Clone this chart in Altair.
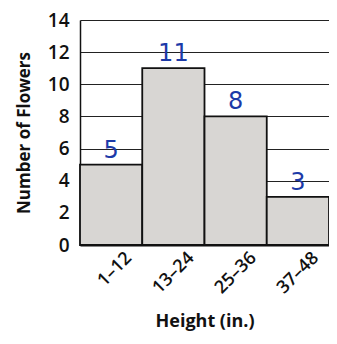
import altair as alt
import pandas as pd

categories = ["1–12", "13–24", "25–36", "37–48"]
counts = [5, 11, 8, 3]
labels = ["5", "11", "8", "3"]

df = pd.DataFrame({"height": categories, "count": counts, "label": labels})

FONT = "Open Sans"

x = alt.X(
    "height:N",
    sort=categories,
    scale=alt.Scale(paddingInner=0, paddingOuter=0),
    axis=alt.Axis(
        title="Height (in.)",
        labelAngle=-45,
        labelAlign="right",
        labelBaseline="middle",
        labelOffset=18,
        labelPadding=10,
        labelFont=FONT,
        labelFontSize=18,
        labelFontWeight=600,
        labelColor="#111",
        titleFont=FONT,
        titleFontSize=18,
        titleFontWeight="bold",
        titleColor="#111",
        titlePadding=16,
        ticks=False,
        domainColor="#111",
        domainWidth=2,
    ),
)

y = alt.Y(
    "count:Q",
    scale=alt.Scale(domain=[0, 14], nice=False),
    axis=alt.Axis(
        title="Number of Flowers",
        values=[0, 2, 4, 6, 8, 10, 12, 14],
        labelFont=FONT,
        labelFontSize=19,
        labelFontWeight=600,
        labelColor="#111",
        labelPadding=11,
        titleFont=FONT,
        titleFontSize=17,
        titleFontWeight="bold",
        titleColor="#111",
        titlePadding=14,
        ticks=False,
        domainColor="#111",
        domainWidth=1.5,
        grid=True,
        gridColor="#222",
        gridWidth=1.2,
    ),
)

bars = alt.Chart(df).mark_bar(
    fill="#d8d6d3", stroke="#111", strokeWidth=1.8
).encode(x=x, y=y)

text = alt.Chart(df).mark_text(
    dy=-14, fontSize=24, color="#1c3aa8", font="DejaVu Sans", baseline="middle"
).encode(x=x, y=y, text="label:N")

chart = (
    (bars + text)
    .properties(
        width=249,
        height=225,
        autosize=alt.AutoSizeParams(type="none"),
        padding={"left": 72, "top": 12, "right": 0, "bottom": 91},
        background="white",
    )
    .configure_view(stroke=None)
)

chart.save("out.html", embed_options={"renderer": "svg", "actions": False})
